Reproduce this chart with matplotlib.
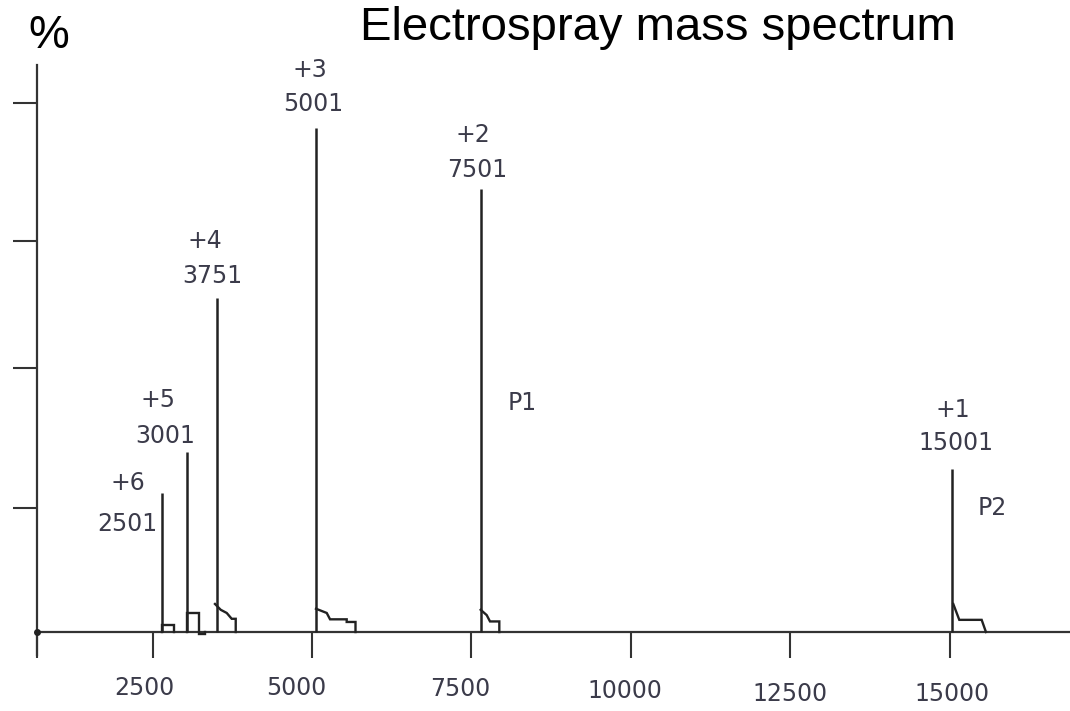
import matplotlib
matplotlib.use("Agg")
import matplotlib.pyplot as plt
from matplotlib.transforms import ScaledTranslation

# ---------------- data ----------------
charges = ["+6", "+5", "+4", "+3", "+2", "+1"]
mz_labels = ["2501", "3001", "3751", "5001", "7501", "15001"]
peak_x = [2653, 3045, 3506, 5063, 7645, 15030]          # position
peak_y = [26.3, 34.0, 63.1, 95.3, 83.7, 30.8]           # relative intensity (%)

# small decaying shoulders after every peak (x, %)
tail_x = [
    [2653, 2653, 2836, 2836],
    [3045, 3045, 3228, 3228, 3322, 3322],
    [3479, 3569, 3663, 3741, 3804, 3804],
    [5063, 5231, 5283, 5544, 5544, 5682, 5682],
    [7645, 7739, 7791, 7937, 7937],
    [15055, 15149, 15500, 15567],
]
tail_y = [
    [0, 1.3, 1.3, 0],
    [0, 3.6, 3.6, -0.4, -0.4, 0],
    [5.3, 4.2, 3.6, 2.5, 2.5, 0],
    [4.4, 3.6, 2.4, 2.4, 1.9, 1.9, 0],
    [4.2, 3.2, 2.0, 2.0, 0],
    [5.3, 2.3, 2.3, 0],
]

x_ticks = [2500, 5000, 7500, 10000, 12500, 15000]
x_tick_labels = ["2500", "5000", "7500", "10000", "12500", "15000"]
y_ticks = [23.5, 50, 74, 100]

product_labels = ["P1", "P2"]

# ---------------- layout (positions / styles) ----------------
X0 = 688            # where the vertical axis sits
XMAX = 16885
YTOP = 107.2
charge_pos = [(2115, 28.2), (2585, 43.9), (3322, 73.9), (4969, 106.2), (7524, 94.0), (15050, 42.0)]
mz_pos = [(2099, 20.4), (2695, 37.1), (3432, 67.3), (5016, 99.8), (7587, 87.3), (15097, 35.7)]
product_pos = [(8293, 43.3), (15662, 23.4)]
tick_dx = [-8, -16, -11, -6, 0, 2]     # pixel nudges of tick labels
tick_dy = [0, 0, -1, -3, -6, -6]

INK = "#222222"
LBL = "#3b3b4a"
narrow = ["Liberation Sans Narrow", "DejaVu Sans"]
sans = ["Liberation Sans", "DejaVu Sans"]

fig = plt.figure(figsize=(10.7, 7.11), dpi=100)
fig.patch.set_facecolor("white")
ax = fig.add_axes([0, 0, 1, 1])
ax.set_xlim(108, 16885)
ax.set_ylim(-14.93, 119.47)
ax.set_facecolor("white")

# peaks
ax.vlines(peak_x, 0, peak_y, color=INK, lw=1.8, zorder=3)
for tx, ty in zip(tail_x, tail_y):
    ax.plot(tx, ty, color=INK, lw=1.7, solid_joinstyle="miter", zorder=3)

# axes / spines
for s in ("top", "right"):
    ax.spines[s].set_visible(False)
ax.spines["left"].set_position(("data", X0))
ax.spines["left"].set_bounds(-4.3, YTOP)
ax.spines["bottom"].set_position(("data", 0))
ax.spines["bottom"].set_bounds(X0, XMAX)
for s in ("left", "bottom"):
    ax.spines[s].set_linewidth(1.6)
    ax.spines[s].set_color("#333333")

ax.set_xticks([X0] + x_ticks)
ax.set_xticklabels([""] + x_tick_labels, family=narrow, fontsize=17, color=LBL)
ax.tick_params(axis="x", direction="out", length=19, width=1.5, color="#333333", pad=13)
ax.set_yticks(y_ticks)
ax.set_yticklabels([])
ax.set_yticks(y_ticks, minor=True)
ax.tick_params(axis="y", which="major", direction="out", length=17, width=1.5, color="#333333")
ax.tick_params(axis="y", which="minor", direction="in", length=7, width=1.5, color="#333333")

for lab, dx, dy in zip(ax.get_xticklabels()[1:], tick_dx, tick_dy):
    lab.set_transform(lab.get_transform() + ScaledTranslation(dx / 100, dy / 100, fig.dpi_scale_trans))

ax.plot([X0], [0], marker="o", ms=4, color=INK, zorder=4)

# peak annotations
for c, (cx, cy) in zip(charges, charge_pos):
    ax.text(cx, cy, c, ha="center", va="center", family=narrow, fontsize=17, color=LBL)
for m, (mx, my) in zip(mz_labels, mz_pos):
    ax.text(mx, my, m, ha="center", va="center", family=narrow, fontsize=17, color=LBL)
for p, (px, py) in zip(product_labels, product_pos):
    ax.text(px, py, p, ha="center", va="center", family=narrow, fontsize=17, color=LBL)

# title and unit
fig.text(658 / 1070, 1 - 40 / 711, "Electrospray mass spectrum", ha="center", va="baseline",
         family=sans, fontsize=34, color="black")
fig.text(49 / 1070, 1 - 48 / 711, "%", ha="center", va="baseline",
         family=sans, fontsize=33, color="black")

fig.savefig("out.png", dpi=100, facecolor="white")
